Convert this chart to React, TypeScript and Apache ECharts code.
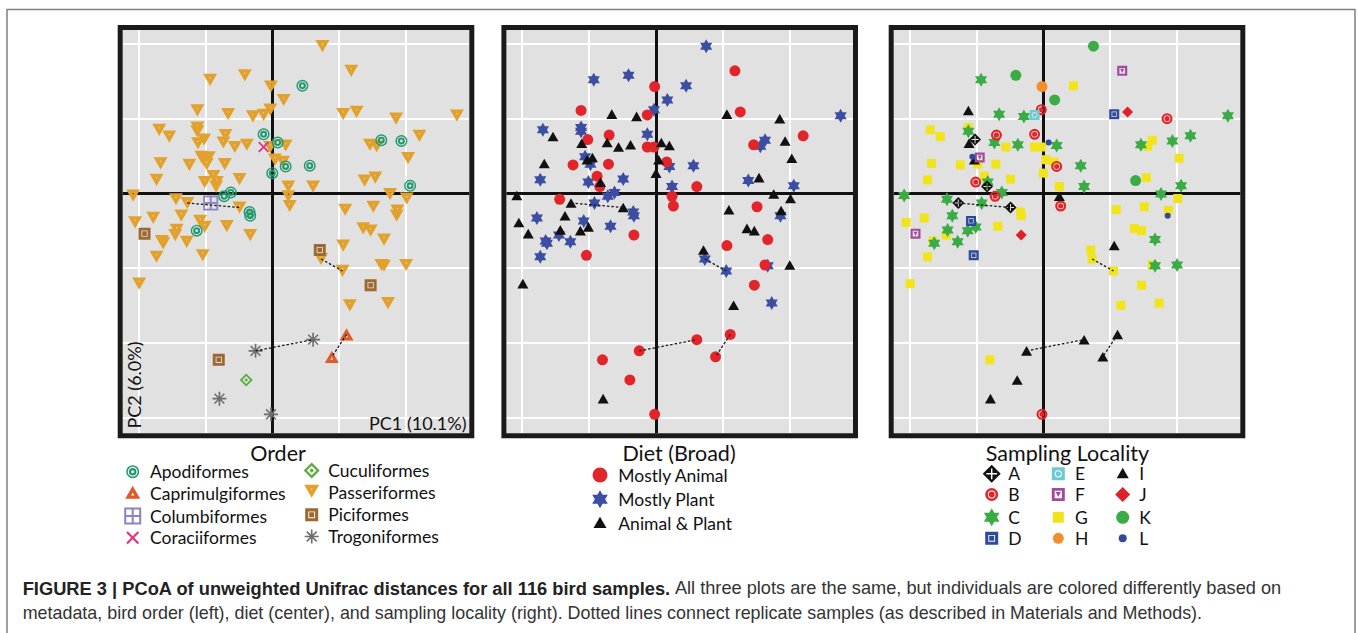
import { useEffect, useRef } from 'react';
import * as echarts from 'echarts';

// ---------- DATA (PC1, PC2 scores and metadata for each bird sample) ----------
const pc1 = [
  0.075, 0.118, -0.041, -0.093, -0.002, 0.045, 0.017, -0.112, -0.066, -0.029,
  -0.013, -0.003, 0.106, 0.126, 0.185, 0.276, -0.169, -0.154, -0.112, -0.112,
  -0.102, -0.111, -0.070, -0.073, -0.056, -0.038, -0.013, -0.013, -0.003, 0.008,
  0.020, 0.220, 0.146, 0.156, 0.163, 0.193, 0.203, -0.167, -0.124, -0.106,
  -0.103, -0.098, -0.095, -0.071, 0.004, 0.016, 0.020, 0.056, 0.000, -0.173,
  -0.088, -0.101, -0.083, -0.084, -0.049, 0.024, 0.061, 0.138, 0.154, 0.206,
  -0.062, -0.072, -0.208, -0.144, -0.127, -0.092, -0.049, 0.024, 0.026, 0.176,
  0.201, -0.034, -0.033, 0.109, 0.151, 0.187, 0.186, -0.205, -0.178, -0.136,
  -0.108, -0.101, -0.068, -0.033, -0.143, -0.145, -0.113, -0.191, -0.165, -0.163,
  -0.128, -0.173, -0.104, 0.136, 0.147, 0.167, 0.106, 0.071, 0.073, 0.105,
  0.163, 0.167, 0.200, -0.199, 0.147, 0.116, 0.173, 0.111, 0.089, -0.025,
  0.061, -0.080, -0.039, -0.079, -0.002,
];
const pc2 = [
  0.197, 0.164, 0.158, 0.152, 0.143, 0.144, 0.125, 0.111, 0.106, 0.103,
  0.105, 0.112, 0.106, 0.109, 0.100, 0.104, 0.085, 0.076, 0.088, 0.083,
  0.072, 0.067, 0.078, 0.068, 0.062, 0.065, 0.079, 0.062, 0.062, 0.068,
  0.064, 0.077, 0.065, 0.063, 0.071, 0.070, 0.047, 0.040, 0.038, 0.049,
  0.045, 0.039, 0.048, 0.039, 0.045, 0.042, 0.036, 0.037, 0.027, 0.018,
  0.023, 0.015, 0.015, 0.009, 0.019, 0.009, 0.009, 0.017, 0.021, 0.010,
  0.001, -0.004, -0.003, -0.008, -0.013, -0.013, -0.019, -0.004, -0.017, -0.001,
  -0.007, -0.025, -0.030, -0.022, -0.018, -0.023, -0.030, -0.039, -0.033, -0.030,
  -0.037, -0.045, -0.044, -0.056, -0.049, -0.056, -0.050, -0.054, -0.064, -0.067,
  -0.065, -0.085, -0.083, -0.047, -0.050, -0.062, -0.070, -0.076, -0.088, -0.104,
  -0.096, -0.097, -0.096, -0.121, -0.123, -0.150, -0.147, -0.189, -0.219, -0.211,
  -0.196, -0.223, -0.250, -0.275, -0.296,
];
const orderOf = [
  'Pas', 'Pas', 'Pas', 'Pas', 'Pas', 'Apo', 'Pas', 'Pas', 'Pas', 'Pas',
  'Pas', 'Pas', 'Pas', 'Pas', 'Pas', 'Pas', 'Pas', 'Pas', 'Pas', 'Pas',
  'Pas', 'Pas', 'Pas', 'Pas', 'Pas', 'Pas', 'Apo', 'Cor', 'Pas', 'Apo',
  'Pas', 'Pas', 'Pas', 'Pas', 'Apo', 'Apo', 'Pas', 'Pas', 'Pas', 'Pas',
  'Pas', 'Pas', 'Pas', 'Pas', 'Pas', 'Pas', 'Apo', 'Apo', 'Apo', 'Pas',
  'Pas', 'Pas', 'Pas', 'Pas', 'Pas', 'Pas', 'Pas', 'Pas', 'Pas', 'Apo',
  'Apo', 'Apo', 'Pas', 'Pas', 'Pas', 'Col', 'Pas', 'Pas', 'Pas', 'Pas',
  'Pas', 'Apo', 'Apo', 'Pas', 'Pas', 'Pas', 'Pas', 'Pas', 'Pas', 'Pas',
  'Pas', 'Pas', 'Pas', 'Pas', 'Pas', 'Pas', 'Apo', 'Pic', 'Pas', 'Pas',
  'Pas', 'Pas', 'Pas', 'Pas', 'Pas', 'Pas', 'Pas', 'Pic', 'Pas', 'Pas',
  'Pas', 'Pas', 'Pas', 'Pas', 'Pic', 'Pas', 'Pas', 'Cap', 'Cap', 'Tro',
  'Tro', 'Pic', 'Cuc', 'Tro', 'Tro',
];
const dietOf = [
  'P', 'A', 'P', 'P', 'A', 'P', 'P', 'A', 'AP', 'AP',
  'A', 'P', 'AP', 'A', 'AP', 'P', 'P', 'AP', 'P', 'P',
  'A', 'AP', 'A', 'AP', 'AP', 'AP', 'P', 'A', 'A', 'AP',
  'AP', 'A', 'A', 'P', 'P', 'AP', 'AP', 'AP', 'A', 'P',
  'AP', 'P', 'AP', 'A', 'AP', 'A', 'P', 'P', 'AP', 'P',
  'A', 'P', 'AP', 'A', 'P', 'P', 'A', 'P', 'AP', 'P',
  'P', 'P', 'AP', 'A', 'AP', 'P', 'AP', 'A', 'A', 'AP',
  'AP', 'P', 'P', 'AP', 'A', 'AP', 'P', 'AP', 'P', 'AP',
  'P', 'AP', 'P', 'A', 'AP', 'P', 'AP', 'AP', 'P', 'P',
  'P', 'P', 'A', 'AP', 'AP', 'A', 'A', 'AP', 'P', 'P',
  'A', 'P', 'AP', 'AP', 'A', 'AP', 'P', 'A', 'A', 'A',
  'A', 'A', 'A', 'AP', 'A',
];
const localityOf = [
  'K', 'F', 'K', 'C', 'H', 'G', 'K', 'I', 'C', 'C',
  'E', 'B', 'D', 'J', 'B', 'C', 'G', 'G', 'G', 'C',
  'A', 'I', 'B', 'C', 'G', 'C', 'B', 'G', 'G', 'L',
  'C', 'C', 'C', 'G', 'G', 'C', 'G', 'G', 'G', 'L',
  'I', 'G', 'F', 'G', 'G', 'G', 'B', 'C', 'G', 'G',
  'G', 'B', 'C', 'A', 'G', 'G', 'C', 'K', 'G', 'C',
  'C', 'B', 'C', 'C', 'A', 'C', 'A', 'I', 'B', 'C',
  'G', 'G', 'G', 'G', 'G', 'G', 'L', 'G', 'G', 'C',
  'D', 'C', 'G', 'J', 'C', 'G', 'C', 'F', 'G', 'C',
  'C', 'G', 'D', 'G', 'G', 'C', 'I', 'G', 'G', 'G',
  'G', 'C', 'C', 'G', 'G', 'G', 'G', 'I', 'I', 'I',
  'I', 'G', 'I', 'I', 'B',
];
// replicate samples joined by dotted lines (sample indices)
const replicatePairs = [[64, 66], [98, 99], [107, 108], [109, 110]];

const orderCodes = ['Apo', 'Cap', 'Col', 'Cor', 'Cuc', 'Pas', 'Pic', 'Tro'];
const orderNames = ['Apodiformes', 'Caprimulgiformes', 'Columbiformes', 'Coraciiformes', 'Cuculiformes', 'Passeriformes', 'Piciformes', 'Trogoniformes'];
const dietCodes = ['A', 'P', 'AP'];
const dietNames = ['Mostly Animal', 'Mostly Plant', 'Animal & Plant'];
const localityCodes = ['A', 'B', 'C', 'D', 'E', 'F', 'G', 'H', 'I', 'J', 'K', 'L'];
const gridTicksX = [-0.2, -0.1, 0.1, 0.2];
const gridTicksY = [0.2, 0.1, -0.1, -0.2, -0.3];
const panelTitles = ['Order', 'Diet (Broad)', 'Sampling Locality'];
const axisTitleX = 'PC1 (10.1%)';
const axisTitleY = 'PC2 (6.0%)';
const captionBold = 'FIGURE 3 | PCoA of unweighted Unifrac distances for all 116 bird samples.';
const captionRest1 = ' All three plots are the same, but individuals are colored differently based on';
const captionLine2 = 'metadata, bird order (left), diet (center), and sampling locality (right). Dotted lines connect replicate samples (as described in Materials and Methods).';

// ---------- SYMBOL SHAPES (100 x 100 box) ----------
const circ = (cx: number, cy: number, r: number, cw = true) => {
  const s = cw ? 1 : 0;
  return `M${cx} ${cy - r}A${r} ${r} 0 1 ${s} ${cx} ${cy + r}A${r} ${r} 0 1 ${s} ${cx} ${cy - r}Z`;
};
const sq = (x0: number, y0: number, x1: number, y1: number, cw = true) =>
  cw ? `M${x0} ${y0}L${x1} ${y0}L${x1} ${y1}L${x0} ${y1}Z` : `M${x0} ${y0}L${x0} ${y1}L${x1} ${y1}L${x1} ${y0}Z`;
const dia = (cx: number, cy: number, r: number, cw = true) =>
  cw ? `M${cx} ${cy - r}L${cx + r} ${cy}L${cx} ${cy + r}L${cx - r} ${cy}Z` : `M${cx} ${cy - r}L${cx - r} ${cy}L${cx} ${cy + r}L${cx + r} ${cy}Z`;
// counter-clockwise thin cross (a hole)
const crossHole = 'M46 20L46 46L20 46L20 54L46 54L46 80L54 80L54 54L80 54L80 46L54 46L54 20Z';

const SHAPES: Record<string, string> = {
  apod: circ(50, 50, 50) + circ(50, 50, 38, false) + circ(50, 50, 29) + circ(50, 50, 12, false),
  capri: 'M50 0L100 87L0 87Z' + 'M50 44L40 64L60 64Z',
  columb: sq(0, 0, 100, 100) + sq(12, 12, 44, 44, false) + sq(56, 12, 88, 44, false) + sq(12, 56, 44, 88, false) + sq(56, 56, 88, 88, false),
  corac: 'M0 12L12 0L100 88L88 100Z M88 0L100 12L12 100L0 88Z',
  cucul: dia(50, 50, 50) + dia(50, 50, 30, false) + dia(50, 50, 14),
  passer: 'M0 0L100 0L50 87Z' + 'M50 36L55 25L45 25Z',
  pici: sq(0, 0, 100, 100) + sq(24, 24, 76, 76, false) + sq(31, 31, 69, 69),
  trogon: 'M44 0L56 0L56 100L44 100Z M0 44L100 44L100 56L0 56Z M11 19L19 11L89 81L81 89Z M81 11L89 19L19 89L11 81Z',
  circle: circ(50, 50, 50),
  hex: 'M50 0L93.3 75L6.7 75Z M50 100L6.7 25L93.3 25Z' + circ(50, 50, 13, false) + circ(50, 50, 8),
  tri: 'M50 0L100 87L0 87Z',
  locA: dia(50, 50, 50) + crossHole,
  locB: circ(50, 50, 50) + circ(50, 50, 30, false) + circ(50, 50, 23),
  locD: sq(0, 0, 100, 100) + sq(24, 24, 76, 76, false) + sq(31, 31, 69, 69),
  locE: sq(0, 0, 100, 100) + circ(50, 50, 28, false) + circ(50, 50, 20),
  locF: sq(0, 0, 100, 100) + sq(22, 22, 78, 78, false) + 'M30 30L70 30L50 70Z',
  square: sq(0, 0, 100, 100),
  diamond: dia(50, 50, 50),
};
Object.keys(SHAPES).forEach((k) => {
  echarts.graphic.registerShape('sym_' + k, echarts.graphic.extendPath(SHAPES[k], {}) as any);
});

type Sty = { shape: string; size: number; legend: number; color: string };
const orderStyles: Record<string, Sty> = {
  Apo: { shape: 'apod', size: 12, legend: 13, color: '#1f9a6f' },
  Cap: { shape: 'capri', size: 14, legend: 15, color: '#e05a2b' },
  Col: { shape: 'columb', size: 15, legend: 17, color: '#8c84c4' },
  Cor: { shape: 'corac', size: 11, legend: 13, color: '#e0338a' },
  Cuc: { shape: 'cucul', size: 13, legend: 16, color: '#5aac3c' },
  Pas: { shape: 'passer', size: 14, legend: 15, color: '#e2a12c' },
  Pic: { shape: 'pici', size: 12, legend: 13, color: '#9c6a30' },
  Tro: { shape: 'trogon', size: 14, legend: 14, color: '#6e6e6e' },
};
const dietStyles: Record<string, Sty> = {
  A: { shape: 'circle', size: 11, legend: 15, color: '#e2252b' },
  P: { shape: 'hex', size: 14, legend: 18, color: '#3b4ea2' },
  AP: { shape: 'tri', size: 11, legend: 13, color: '#111111' },
};
const locStyles: Record<string, Sty> = {
  A: { shape: 'locA', size: 12, legend: 18, color: '#111111' },
  B: { shape: 'locB', size: 11, legend: 13, color: '#e2252b' },
  C: { shape: 'hex', size: 14, legend: 18, color: '#3aab45' },
  D: { shape: 'locD', size: 10, legend: 13, color: '#2f4a9c' },
  E: { shape: 'locE', size: 10, legend: 13, color: '#6ccad3' },
  F: { shape: 'locF', size: 10, legend: 13, color: '#a44a9e' },
  G: { shape: 'square', size: 9, legend: 11, color: '#f2e41a' },
  H: { shape: 'circle', size: 11, legend: 11, color: '#f28e2b' },
  I: { shape: 'tri', size: 11, legend: 12, color: '#111111' },
  J: { shape: 'diamond', size: 11, legend: 15, color: '#e02027' },
  K: { shape: 'circle', size: 11, legend: 13, color: '#3aab45' },
  L: { shape: 'circle', size: 6, legend: 8, color: '#2f4a9c' },
};

const XMIN = -0.2236, XMAX = 0.2945, YMIN = -0.3214, YMAX = 0.2187;
const GRID_LEFTS = [122.7, 506.4, 893.7];
const GRID_TOP = 30, GRID_W = 346.6, GRID_H = 403.3;
const FONT = 'Lato, "Open Sans", sans-serif';

function buildOption() {
  const grid: any[] = [], xAxis: any[] = [], yAxis: any[] = [], series: any[] = [], graphic: any[] = [];
  const panels = [
    { codes: orderCodes, of: orderOf, styles: orderStyles, draw: ['Pas', 'Apo', 'Pic', 'Cap', 'Col', 'Cor', 'Cuc', 'Tro'], names: orderNames },
    { codes: dietCodes, of: dietOf, styles: dietStyles, draw: ['P', 'A', 'AP'], names: dietNames },
    { codes: localityCodes, of: localityOf, styles: locStyles, draw: ['G', 'C', 'K', 'B', 'I', 'A', 'D', 'E', 'F', 'H', 'J', 'L'], names: localityCodes },
  ];
  panels.forEach((pn, p) => {
    grid.push({ left: GRID_LEFTS[p], top: GRID_TOP, width: GRID_W, height: GRID_H, show: true, backgroundColor: '#e1e1e1', borderWidth: 0 });
    xAxis.push({ gridIndex: p, type: 'value', min: XMIN, max: XMAX, show: false });
    yAxis.push({ gridIndex: p, type: 'value', min: YMIN, max: YMAX, show: false });
    series.push({
      type: 'lines', coordinateSystem: 'cartesian2d', xAxisIndex: p, yAxisIndex: p, silent: true, z: 1,
      lineStyle: { color: '#ffffff', width: 2, opacity: 1 },
      data: [
        ...gridTicksX.map((v) => ({ coords: [[v, YMIN], [v, YMAX]] })),
        ...gridTicksY.map((v) => ({ coords: [[XMIN, v], [XMAX, v]] })),
      ],
    });
    series.push({
      type: 'lines', coordinateSystem: 'cartesian2d', xAxisIndex: p, yAxisIndex: p, silent: true, z: 1,
      lineStyle: { color: '#111111', width: 3, opacity: 1 },
      data: [{ coords: [[0, YMIN], [0, YMAX]] }, { coords: [[XMIN, 0], [XMAX, 0]] }],
    });
    pn.draw.forEach((code) => {
      const st = pn.styles[code];
      const data: number[][] = [];
      pn.of.forEach((c, i) => { if (c === code) data.push([pc1[i], pc2[i]]); });
      series.push({
        type: 'scatter', name: pn.names[pn.codes.indexOf(code)], xAxisIndex: p, yAxisIndex: p, silent: true, z: 2,
        symbol: 'path://' + SHAPES[st.shape], symbolSize: st.size, symbolKeepAspect: true,
        itemStyle: { color: st.color, opacity: 1 }, data,
      });
    });
    series.push({
      type: 'lines', coordinateSystem: 'cartesian2d', xAxisIndex: p, yAxisIndex: p, silent: true, z: 3,
      lineStyle: { color: '#1a1a1a', width: 1.3, type: [2.5, 2], opacity: 1 },
      data: replicatePairs.map(([a, b]) => ({ coords: [[pc1[a], pc2[a]], [pc1[b], pc2[b]]] })),
    });
    // frame
    graphic.push({
      type: 'rect', z: 20, silent: true,
      shape: { x: GRID_LEFTS[p] - 2.5, y: GRID_TOP - 2.5, width: GRID_W + 5, height: GRID_H + 5 },
      style: { fill: 'none', stroke: '#1a1a1a', lineWidth: 5 },
    });
  });

  // outer figure box
  graphic.push({ type: 'rect', z: 0, silent: true, shape: { x: 7, y: 9.5, width: 1348, height: 700 }, style: { fill: 'none', stroke: '#808080', lineWidth: 1.5 } });

  // axis titles in panel 1
  graphic.push({ type: 'text', z: 25, x: 134, y: 385, rotation: Math.PI / 2, style: { text: axisTitleY, font: `18px ${FONT}`, fill: '#111', textAlign: 'center', textVerticalAlign: 'middle', lineHeight: 18 } });
  graphic.push({ type: 'text', z: 25, x: 466.5, y: 423, style: { text: axisTitleX, font: `18px ${FONT}`, fill: '#111', textAlign: 'right', textVerticalAlign: 'middle', lineHeight: 18 } });

  // legend titles
  const titleX = [278, 679, 1067.5];
  panelTitles.forEach((t, i) => {
    graphic.push({ type: 'text', z: 25, x: titleX[i], y: 453, style: { text: t, font: `21.5px ${FONT}`, fill: '#111', textAlign: 'center', textVerticalAlign: 'middle', lineHeight: 19 } });
  });

  const legendItem = (st: Sty, label: string, cx: number, tx: number, y: number) => {
    const s = st.legend / 100;
    graphic.push({ type: 'sym_' + st.shape, z: 25, silent: true, x: cx - 50 * s, y: y - 50 * s, scaleX: s, scaleY: s, style: { fill: st.color } });
    graphic.push({ type: 'text', z: 25, x: tx, y, style: { text: label, font: `17.5px ${FONT}`, fill: '#111', textAlign: 'left', textVerticalAlign: 'middle', lineHeight: 17 } });
  };
  // Order legend (2 columns)
  const oRows1 = [471.7, 493.3, 516, 537.7];
  const oRows2 = [470.5, 492.2, 514.8, 536.5];
  orderCodes.forEach((c, i) => {
    const col = i < 4 ? 0 : 1;
    const r = i % 4;
    legendItem(orderStyles[c], orderNames[i], col ? 311.7 : 132.7, col ? 328.3 : 150, col ? oRows2[r] : oRows1[r]);
  });
  // Diet legend
  const dRows = [475, 499.3, 523.3];
  dietCodes.forEach((c, i) => legendItem(dietStyles[c], dietNames[i], 600, 618.3, dRows[i]));
  // Locality legend (3 columns)
  const lRows = [473.8, 494.5, 517.3, 538.3];
  const lIcon = [991.7, 1058.3, 1122.7];
  const lText = [1008.3, 1075, 1139.3];
  localityCodes.forEach((c, i) => {
    const col = Math.floor(i / 4);
    legendItem(locStyles[c], c, lIcon[col], lText[col], lRows[i % 4]);
  });

  // caption
  const capFont = '"Liberation Sans", Arial, sans-serif';
  graphic.push({
    type: 'text', z: 25, x: 22.7, y: 588,
    style: {
      text: `{b|${captionBold}}{r|${captionRest1}}`,
      textVerticalAlign: 'middle', textAlign: 'left',
      rich: {
        b: { fontFamily: capFont, fontSize: 18.3, fontWeight: 'bold', fill: '#222', color: '#222' },
        r: { fontFamily: capFont, fontSize: 18.2, fill: '#333', color: '#333' },
      },
    },
  });
  graphic.push({ type: 'text', z: 25, x: 22.7, y: 613, style: { text: captionLine2, font: `17.9px ${capFont}`, fill: '#333', textAlign: 'left', textVerticalAlign: 'middle' } });

  return { animation: false, backgroundColor: '#ffffff', grid, xAxis, yAxis, series, graphic };
}

export default function App() {
  const ref = useRef<HTMLDivElement>(null);
  useEffect(() => {
    if (!ref.current) return;
    const chart = echarts.init(ref.current, null, { renderer: 'svg' });
    chart.setOption(buildOption() as any);
    return () => chart.dispose();
  }, []);
  return <div ref={ref} style={{ position: 'absolute', left: 0, top: 0, width: 1358, height: 633, background: '#fff' }} />;
}
